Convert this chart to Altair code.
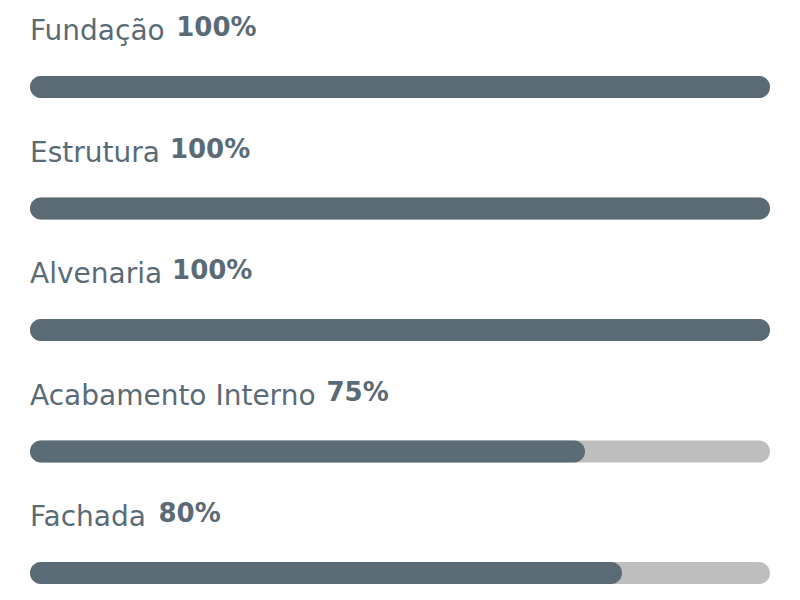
import altair as alt
import pandas as pd

tasks = ["Fundação", "Estrutura", "Alvenaria", "Acabamento Interno", "Fachada"]
progress = [100, 100, 100, 75, 80]

NAME_SIZE = 28
PCT_SIZE = 26
FONT = "DejaVu Sans"
DARK = "#5a6b76"
LIGHT = "#bebebe"

# DejaVu Sans advance widths (units per em = 2048) to place the bold % after the name
ADV = {" ": 651, "A": 1401, "E": 1294, "F": 1178, "I": 604, "a": 1255, "b": 1300,
       "c": 1126, "d": 1300, "e": 1260, "h": 1298, "i": 569, "l": 569, "m": 1995,
       "n": 1298, "o": 1253, "r": 842, "s": 1067, "t": 803, "u": 1298, "v": 1212,
       "ç": 1126, "ã": 1255}


def text_width(s, size):
    return sum(ADV.get(ch, 1250) for ch in s) * size / 2048


df = pd.DataFrame({"task": tasks, "value": progress})
df["full"] = 100
df["zero"] = 0
df["pct"] = df["value"].astype(str) + "%"
df["pct_x"] = [text_width(t, NAME_SIZE) + 10 for t in tasks]

y_enc = alt.Y("task:N", sort=tasks, scale=alt.Scale(type="point", padding=0), axis=None)
x_scale = alt.Scale(domain=[0, 100])

base = alt.Chart(df)

bg = base.mark_bar(height=22, cornerRadius=11, color=LIGHT).encode(
    x=alt.X("zero:Q", scale=x_scale, axis=None), x2="full:Q", y=y_enc
)
fg = base.mark_bar(height=22, cornerRadius=11, color=DARK).encode(
    x=alt.X("zero:Q", scale=x_scale, axis=None), x2="value:Q", y=y_enc
)
names = base.mark_text(
    align="left", baseline="alphabetic", dy=-47, font=FONT,
    fontSize=NAME_SIZE, color=DARK
).encode(x=alt.value(0), y=y_enc, text="task:N")
pcts = base.mark_text(
    align="left", baseline="alphabetic", dy=-51, font=FONT,
    fontSize=PCT_SIZE, fontWeight="bold", color=DARK
).encode(x=alt.X("pct_x:Q", scale=None), y=y_enc, text="pct:N")

chart = alt.layer(bg, fg, names, pcts).properties(
    width=740, height=486,
    autosize=alt.AutoSizeParams(type="none"),
    padding={"left": 22, "top": 79, "right": 22, "bottom": 19},
    background="#ffffff",
).configure_view(stroke=None)

chart.save("out.html", embed_options={"renderer": "svg", "actions": False})
